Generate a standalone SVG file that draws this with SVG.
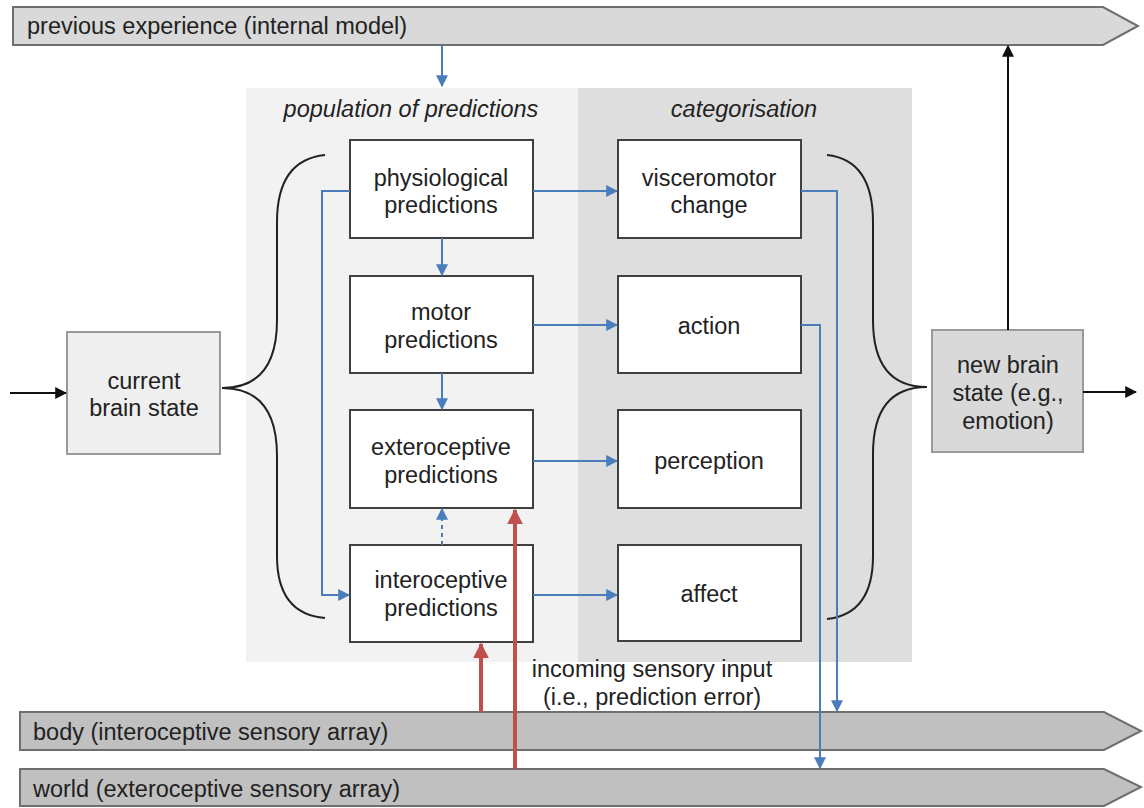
<svg xmlns="http://www.w3.org/2000/svg" width="1144" height="808" viewBox="0 0 1144 808">
<defs>
<style>
text{font-family:"Liberation Sans",Arial,sans-serif;font-size:23.5px;fill:#222;}
.c{text-anchor:middle;}
.it{font-style:italic;}
.box{fill:#fff;stroke:#404040;stroke-width:2;}
.banner{stroke:#6e6e6e;stroke-width:2;}
.blue{fill:none;stroke:#4a7ebb;stroke-width:2;}
.red{fill:none;stroke:#c0504d;stroke-width:4;}
.blk{fill:none;stroke:#111;stroke-width:2;}
.brace{fill:none;stroke:#222;stroke-width:2;}
</style>
<marker id="ab" viewBox="0 0 10 10" refX="9" refY="5" markerWidth="6" markerHeight="6" orient="auto"><path d="M0,0 L10,5 L0,10 z" fill="#4a7ebb"/></marker>
<marker id="ar" viewBox="0 0 10 10" refX="9" refY="5" markerWidth="4" markerHeight="4" orient="auto"><path d="M0,0 L10,5 L0,10 z" fill="#c0504d"/></marker>
<marker id="ak" viewBox="0 0 10 10" refX="9" refY="5" markerWidth="6" markerHeight="6" orient="auto"><path d="M0,0 L10,5 L0,10 z" fill="#111"/></marker>
</defs>
<rect width="1144" height="808" fill="#fff"/>

<g id="panel-predictions">
<rect x="246" y="88" width="332" height="574" fill="#f2f2f2"/>
<text class="c it" x="411" y="117">population of predictions</text>
</g>
<g id="panel-categorisation">
<rect x="578" y="88" width="334" height="574" fill="#dedede"/>
<text class="c it" x="744" y="117">categorisation</text>
</g>

<g id="banner-previous">
<path class="banner" d="M13,7 H1103 L1138,26 L1103,45 H13 Z" fill="#d9d9d9"/>
<text x="27" y="34">previous experience (internal model)</text>
</g>
<g id="banner-body">
<path class="banner" d="M20,712 H1104 L1141,731 L1104,750 H20 Z" fill="#c0c0c0"/>
<text x="33" y="740">body (interoceptive sensory array)</text>
</g>
<g id="banner-world">
<path class="banner" d="M20,769 H1104 L1141,787 L1104,806 H20 Z" fill="#c0c0c0"/>
<text x="33" y="797">world (exteroceptive sensory array)</text>
</g>

<g id="current-brain-state">
<rect x="67" y="332" width="153" height="122" fill="#efefef" stroke="#9a9a9a" stroke-width="2"/>
<text class="c" x="144" y="389">current</text>
<text class="c" x="144" y="416">brain state</text>
</g>
<g id="new-brain-state">
<rect x="932" y="330" width="151" height="122" fill="#d9d9d9" stroke="#9a9a9a" stroke-width="2"/>
<text class="c" x="1008" y="373">new brain</text>
<text class="c" x="1008" y="401">state (e.g.,</text>
<text class="c" x="1008" y="429">emotion)</text>
</g>

<g id="physiological">
<rect class="box" x="350" y="140" width="183" height="98"/>
<text class="c" x="441" y="186">physiological</text>
<text class="c" x="441" y="213">predictions</text>
</g>
<g id="motor">
<rect class="box" x="350" y="276" width="183" height="97"/>
<text class="c" x="441" y="320">motor</text>
<text class="c" x="441" y="348">predictions</text>
</g>
<g id="exteroceptive">
<rect class="box" x="350" y="410" width="183" height="98"/>
<text class="c" x="441" y="455">exteroceptive</text>
<text class="c" x="441" y="483">predictions</text>
</g>
<g id="interoceptive">
<rect class="box" x="350" y="545" width="183" height="97"/>
<text class="c" x="441" y="588">interoceptive</text>
<text class="c" x="441" y="616">predictions</text>
</g>
<g id="visceromotor">
<rect class="box" x="618" y="140" width="183" height="98"/>
<text class="c" x="709" y="186">visceromotor</text>
<text class="c" x="709" y="213">change</text>
</g>
<g id="action">
<rect class="box" x="618" y="276" width="183" height="97"/>
<text class="c" x="709" y="334">action</text>
</g>
<g id="perception">
<rect class="box" x="618" y="410" width="183" height="98"/>
<text class="c" x="709" y="469">perception</text>
</g>
<g id="affect">
<rect class="box" x="618" y="545" width="183" height="96"/>
<text class="c" x="709" y="602">affect</text>
</g>

<g id="braces">
<path class="brace" d="M325,155 Q277,160 277,222 L277,320 Q277,388 222,388 Q277,388 277,456 L277,556 Q277,614 325,618"/>
<path class="brace" d="M827,155 Q873,160 873,222 L873,320 Q873,387 927,387 Q873,387 873,454 L873,556 Q873,614 827,619"/>
</g>

<g id="connectors">
<path class="blue" d="M442,45 V86" marker-end="url(#ab)"/>
<path class="blue" d="M533,191 H617" marker-end="url(#ab)"/>
<path class="blue" d="M533,325 H617" marker-end="url(#ab)"/>
<path class="blue" d="M533,461 H617" marker-end="url(#ab)"/>
<path class="blue" d="M533,595 H617" marker-end="url(#ab)"/>
<path class="blue" d="M442,238 V275" marker-end="url(#ab)"/>
<path class="blue" d="M442,373 V409" marker-end="url(#ab)"/>
<path class="blue" d="M442,545 V509" stroke-dasharray="4,4" stroke-width="2.5" marker-end="url(#ab)"/>
<path class="blue" d="M350,191 H322 V595 H349" marker-end="url(#ab)"/>
<path class="blue" d="M801,191 H837 V711" marker-end="url(#ab)"/>
<path class="blue" d="M801,325 H820 V768" marker-end="url(#ab)"/>
<path class="red" d="M481,712 V644" marker-end="url(#ar)"/>
<path class="red" d="M515,769 V510" marker-end="url(#ar)"/>
<path class="blk" d="M10,393 H66" marker-end="url(#ak)"/>
<path class="blk" d="M1083,392 H1136" marker-end="url(#ak)"/>
<path class="blk" d="M1008,330 V46" marker-end="url(#ak)"/>
<text class="c" x="652" y="677">incoming sensory input</text>
<text class="c" x="652" y="705">(i.e., prediction error)</text>
</g>
</svg>
